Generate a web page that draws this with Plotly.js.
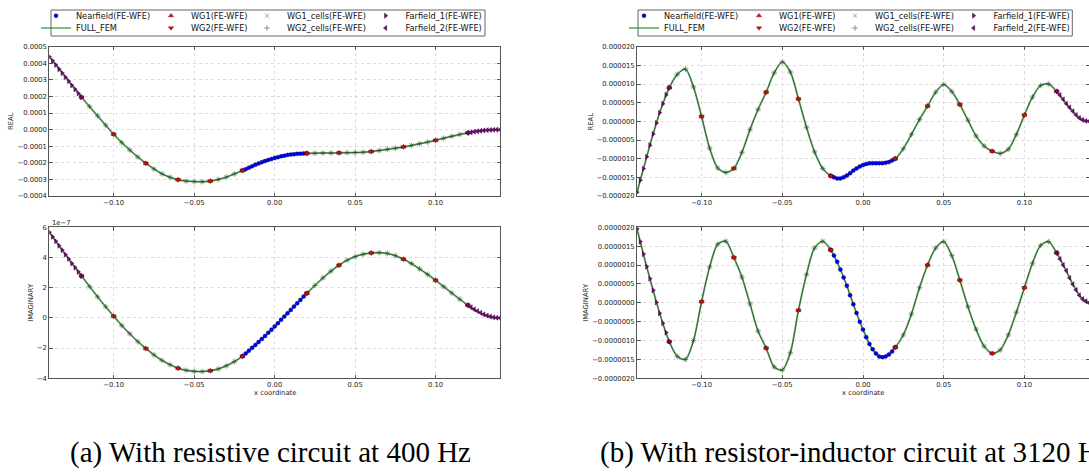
<!DOCTYPE html>
<html><head><meta charset="utf-8">
<script src="https://cdn.plot.ly/plotly-3.0.1.min.js"></script>
<style>html,body{margin:0;padding:0;background:#fff;overflow:hidden}#chart{width:1089px;height:472px}</style>
</head><body><div id="chart"></div>
<script>
// ---------- DATA ----------
const X_GRID = [-0.14,-0.135,-0.13,-0.125,-0.12,-0.115,-0.11,-0.105,-0.10,-0.095,-0.09,-0.085,-0.08,-0.075,-0.07,-0.065,-0.06,-0.055,-0.05,-0.045,-0.04,-0.035,-0.03,-0.025,-0.02,-0.015,-0.01,-0.005,0,0.005,0.01,0.015,0.02,0.025,0.03,0.035,0.04,0.045,0.05,0.055,0.06,0.065,0.07,0.075,0.08,0.085,0.09,0.095,0.10,0.105,0.11,0.115,0.12,0.125,0.13,0.135,0.14];
// (a) REAL, units of 1e-4
const realA_fem = [4.40,3.78,3.16,2.55,1.96,1.39,0.83,0.27,-0.28,-0.78,-1.23,-1.65,-2.03,-2.37,-2.66,-2.87,-3.02,-3.10,-3.13,-3.14,-3.10,-3.00,-2.86,-2.67,-2.46,-2.25,-2.04,-1.86,-1.71,-1.59,-1.50,-1.45,-1.43,-1.42,-1.41,-1.41,-1.40,-1.39,-1.38,-1.36,-1.32,-1.26,-1.19,-1.12,-1.04,-0.95,-0.85,-0.75,-0.64,-0.52,-0.40,-0.29,-0.19,-0.11,-0.05,-0.01,0.00];
// (a) IMAGINARY, units of 1e-7
const imagA_fem = [5.67,4.92,4.19,3.47,2.78,2.08,1.40,0.74,0.11,-0.50,-1.05,-1.57,-2.03,-2.45,-2.81,-3.10,-3.33,-3.47,-3.54,-3.55,-3.50,-3.38,-3.17,-2.89,-2.54,-2.08,-1.60,-1.10,-0.57,-0.02,0.53,1.08,1.63,2.15,2.65,3.10,3.49,3.82,4.06,4.22,4.30,4.32,4.27,4.12,3.89,3.60,3.25,2.88,2.49,2.07,1.65,1.24,0.84,0.50,0.23,0.06,0.00];
// (b) REAL, units of 1e-6
const realB_fem = [-19.0,-11.1,-3.4,3.5,9.0,12.6,14.0,9.2,1.3,-7.2,-12.5,-13.7,-12.6,-8.3,-2.2,3.2,7.8,13.0,15.9,13.2,6.0,-1.6,-8.2,-12.6,-14.6,-15.3,-14.5,-12.9,-11.7,-11.2,-11.2,-11.0,-10.0,-7.3,-3.5,0.5,4.1,7.8,9.9,8.0,4.5,0.3,-3.9,-6.6,-8.0,-8.6,-7.5,-3.5,1.7,6.5,9.6,10.0,8.0,5.3,2.7,0.65,0.0];
// (b) IMAGINARY, units of 1e-6
const imagB_fem = [1.96,1.12,0.33,-0.41,-1.03,-1.42,-1.50,-1.00,0.03,0.95,1.55,1.63,1.20,0.68,-0.03,-0.75,-1.20,-1.70,-1.78,-1.32,-0.20,0.75,1.45,1.63,1.40,0.98,0.45,-0.16,-0.71,-1.17,-1.42,-1.40,-1.18,-0.85,-0.30,0.40,1.00,1.45,1.62,1.25,0.60,-0.10,-0.70,-1.15,-1.34,-1.25,-0.85,-0.25,0.40,1.05,1.52,1.62,1.32,0.92,0.49,0.15,0.00];

const NEAR_X = [-0.02,-0.018,-0.016,-0.014,-0.012,-0.01,-0.008,-0.006,-0.004,-0.002,0,0.002,0.004,0.006,0.008,0.01,0.012,0.014,0.016,0.018,0.02];
const realA_near = [-2.46,-2.38,-2.29,-2.21,-2.12,-2.04,-1.96,-1.89,-1.83,-1.77,-1.71,-1.66,-1.61,-1.57,-1.53,-1.50,-1.48,-1.46,-1.45,-1.44,-1.43];
const imagA_near = [-2.54,-2.36,-2.17,-1.98,-1.79,-1.60,-1.40,-1.20,-0.99,-0.78,-0.57,-0.35,-0.13,0.09,0.31,0.53,0.75,0.97,1.19,1.41,1.63];
const realB_near = [-14.6,-15.0,-15.3,-15.3,-15.0,-14.5,-13.9,-13.2,-12.6,-12.1,-11.7,-11.4,-11.25,-11.2,-11.2,-11.2,-11.2,-11.1,-10.9,-10.5,-10.0];
const imagB_near = [1.40,1.25,1.09,0.88,0.67,0.45,0.20,-0.04,-0.27,-0.50,-0.71,-0.91,-1.09,-1.23,-1.34,-1.42,-1.44,-1.42,-1.37,-1.29,-1.18];

const WG_X = [-0.12,-0.10,-0.08,-0.06,-0.04,-0.02,0.02,0.04,0.06,0.08,0.10,0.12];
const realA_wg = [1.96,-0.28,-2.03,-3.02,-3.10,-2.46,-1.43,-1.40,-1.32,-1.04,-0.64,-0.19];
const imagA_wg = [2.78,0.11,-2.03,-3.33,-3.50,-2.54,1.63,3.49,4.30,3.89,2.49,0.84];
const realB_wg = [9.0,1.3,-12.6,7.8,6.0,-14.6,-10.0,4.1,4.5,-8.0,1.7,8.0];
const imagB_wg = [-1.03,0.03,1.20,-1.20,-0.20,1.40,-1.18,1.00,0.60,-1.34,0.40,1.32];

const FF1_X = [-0.14,-0.138,-0.136,-0.134,-0.132,-0.13,-0.128,-0.126,-0.124,-0.122,-0.12];
const FF2_X = [0.12,0.122,0.124,0.126,0.128,0.13,0.132,0.134,0.136,0.138,0.14];
const realA_ff1 = [4.40,4.15,3.90,3.65,3.41,3.16,2.92,2.67,2.43,2.19,1.96];
const realA_ff2 = [-0.19,-0.16,-0.12,-0.10,-0.07,-0.05,-0.03,-0.02,-0.01,0.00,0.00];
const imagA_ff1 = [5.67,5.37,5.08,4.78,4.49,4.19,3.90,3.61,3.33,3.05,2.78];
const imagA_ff2 = [0.84,0.70,0.57,0.45,0.34,0.23,0.15,0.09,0.04,0.01,0.00];
const realB_ff1 = [-19.0,-15.8,-12.7,-9.5,-6.4,-3.4,-0.45,2.3,4.7,7.1,9.0];
const realB_ff2 = [8.0,7.0,5.9,4.7,3.7,2.7,1.7,0.9,0.4,0.1,0.0];
const imagB_ff1 = [1.96,1.62,1.29,0.96,0.64,0.33,0.01,-0.28,-0.54,-0.79,-1.02];
const imagB_ff2 = [1.32,1.16,1.00,0.85,0.66,0.49,0.34,0.20,0.10,0.04,0.00];

const SERIES_NAMES = ['Nearfield(FE-WFE)','FULL_FEM','WG1(FE-WFE)','WG2(FE-WFE)','WG1_cells(FE-WFE)','WG2_cells(FE-WFE)','Farfield_1(FE-WFE)','Farfield_2(FE-WFE)'];
const X_TICKS = [-0.10,-0.05,0.00,0.05,0.10];
const YA_TICKS = [-0.0004,-0.0003,-0.0002,-0.0001,0,0.0001,0.0002,0.0003,0.0004,0.0005];
const YA2_TICKS = [-4,-2,0,2,4,6];
const YB_TICKS = [-0.00002,-0.000015,-0.00001,-0.000005,0,0.000005,0.00001,0.000015,0.00002];
const YB2_TICKS = [-0.000002,-0.0000015,-0.000001,-0.0000005,0,0.0000005,0.000001,0.0000015,0.000002];
const CAPTIONS = ['(a) With resistive circuit at 400 Hz','(b) With resistor-inductor circuit at 3120 Hz'];

// ---------- LAYOUT HELPERS ----------
const W = 1089, H = 472;
const px = v => v / W;
const py = v => 1 - v / H;

const traces = [];
function addPanel(xa, ya, scale, fem, near, wg, ff1, ff2, legBase, showLeg) {
  const s = a => a.map(v => v * scale);
  const cellIdx = X_GRID.map((x, i) => i).filter(i => Math.abs(X_GRID[i]) >= 0.0199 && Math.abs(X_GRID[i]) <= 0.1201);
  const cx = cellIdx.map(i => X_GRID[i]);
  const cy = cellIdx.map(i => fem[i] * scale);
  const L = k => (legBase + k === 1 ? 'legend' : 'legend' + (legBase + k));
  const common = {xaxis: xa, yaxis: ya, showlegend: showLeg};
  traces.push(Object.assign({type:'scatter', mode:'markers', name:SERIES_NAMES[4], x:cx, y:cy, legend:L(5),
    marker:{symbol:'x-thin-open', size:4, color:'#8c8c8c', line:{width:0.8, color:'#8c8c8c'}}}, common));
  traces.push(Object.assign({type:'scatter', mode:'markers', name:SERIES_NAMES[5], x:cx, y:cy, legend:L(6),
    marker:{symbol:'cross-thin-open', size:4, color:'#777', line:{width:0.8, color:'#777'}}}, common));
  traces.push(Object.assign({type:'scatter', mode:'lines', name:SERIES_NAMES[1], x:X_GRID, y:s(fem), legend:L(2),
    line:{color:'rgba(0,128,0,0.5)', width:2, shape:'spline', smoothing:0.8}}, common));
  traces.push(Object.assign({type:'scatter', mode:'lines', x:X_GRID, y:s(fem), hoverinfo:'skip',
    line:{color:'rgba(15,60,15,0.9)', width:0.8, shape:'spline', smoothing:0.8}}, common, {showlegend:false}));
  traces.push(Object.assign({type:'scatter', mode:'markers', name:SERIES_NAMES[0], x:NEAR_X, y:s(near), legend:L(1),
    marker:{symbol:'circle', size:4, color:'#0000ff', line:{width:0.4, color:'#000033'}}}, common));
  traces.push(Object.assign({type:'scatter', mode:'markers', name:SERIES_NAMES[2], x:WG_X, y:s(wg), legend:L(3),
    marker:{symbol:'triangle-up', size:4.5, color:'#ff0000', line:{width:0.4, color:'#330000'}}}, common));
  traces.push(Object.assign({type:'scatter', mode:'markers', name:SERIES_NAMES[3], x:WG_X, y:s(wg), legend:L(4),
    marker:{symbol:'triangle-down', size:4.5, color:'#ff0000', line:{width:0.4, color:'#330000'}}}, common));
  traces.push(Object.assign({type:'scatter', mode:'markers', name:SERIES_NAMES[6], x:FF1_X, y:s(ff1), legend:L(7),
    marker:{symbol:'triangle-right', size:4.5, color:'#800080', line:{width:0.4, color:'#200020'}}}, common));
  traces.push(Object.assign({type:'scatter', mode:'markers', name:SERIES_NAMES[7], x:FF2_X, y:s(ff2), legend:L(8),
    marker:{symbol:'triangle-left', size:4.5, color:'#800080', line:{width:0.4, color:'#200020'}}}, common));
}
addPanel('x','y',1e-4, realA_fem, realA_near, realA_wg, realA_ff1, realA_ff2, 0, true);
addPanel('x2','y2',1, imagA_fem, imagA_near, imagA_wg, imagA_ff1, imagA_ff2, 0, false);
addPanel('x3','y3',1e-6, realB_fem, realB_near, realB_wg, realB_ff1, realB_ff2, 8, true);
addPanel('x4','y4',1e-6, imagB_fem, imagB_near, imagB_wg, imagB_ff1, imagB_ff2, 8, false);

const tickFont = {family:'DejaVu Sans', size:6.8, color:'#222'};
const axBase = {ticks:'inside', ticklen:3.5, tickwidth:0.8, tickcolor:'#333', showline:true, linecolor:'#555', linewidth:1,
  mirror:'allticks', showgrid:true, gridcolor:'#c4c4c4', griddash:'dot', gridwidth:0.6, zeroline:false, tickfont:tickFont, fixedrange:true};
const xAx = (dom, anchor) => Object.assign({}, axBase, {domain:dom, anchor:anchor, range:[-0.14,0.14], tickvals:X_TICKS, tickformat:'.2f'});
const yAx = (dom, anchor, range, tv, fmt) => Object.assign({}, axBase, {domain:dom, anchor:anchor, range:range, tickvals:tv, tickformat:fmt});

const LX = [px(49.3), px(500)], RX = [px(637), 1];
const TY = [py(196), py(46.7)], BY = [py(378.3), py(227.3)];

const layout = {
  width:W, height:H, margin:{l:0,r:0,t:0,b:0}, paper_bgcolor:'#fff', plot_bgcolor:'#fff',
  xaxis: xAx(LX,'y'), yaxis: yAx(TY,'x',[-0.0004,0.0005],YA_TICKS,'.4f'),
  xaxis2: xAx(LX,'y2'), yaxis2: yAx(BY,'x2',[-4,6],YA2_TICKS,'d'),
  xaxis3: xAx(RX,'y3'), yaxis3: yAx(TY,'x3',[-0.00002,0.00002],YB_TICKS,'.6f'),
  xaxis4: xAx(RX,'y4'), yaxis4: yAx(BY,'x4',[-0.000002,0.000002],YB2_TICKS,'.7f'),
  shapes: [
    {type:'rect', xref:'paper', yref:'paper', x0:px(51), x1:px(485), y0:py(36), y1:py(10), line:{color:'#555', width:0.9}},
    {type:'rect', xref:'paper', yref:'paper', x0:px(638), x1:px(1072.3), y0:py(36), y1:py(10), line:{color:'#555', width:0.9}}
  ],
  annotations: [],
  hovermode:false
};
// 16 one-item legends laid out as two 4x2 grids
const COL_TEXT = [76, 191, 287, 405.6];
const ROW_Y = [15.7, 28];
for (let p = 0; p < 2; p++) {
  for (let k = 0; k < 8; k++) {
    const row = k % 2, col = Math.floor(k / 2);
    const idx = p * 8 + k + 1;
    const key = idx === 1 ? 'legend' : 'legend' + idx;
    layout[key] = {x: px(COL_TEXT[col] + p * 588 - 40), xanchor:'left', y: py(ROW_Y[row]), yanchor:'middle',
      bgcolor:'rgba(0,0,0,0)', borderwidth:0, font:{family:'DejaVu Sans', size:8.2, color:'#111'}, itemclick:false, itemdoubleclick:false};
  }
}
const ann = (x, y, text, opt) => Object.assign({xref:'paper', yref:'paper', x:x, y:y, text:text, showarrow:false,
  xanchor:'center', yanchor:'middle', font:tickFont}, opt || {});
layout.annotations.push(ann(px(11.5), py(121.5), 'REAL', {textangle:-90}));
layout.annotations.push(ann(px(31), py(302.8), 'IMAGINARY', {textangle:-90}));
layout.annotations.push(ann(px(591), py(121.5), 'REAL', {textangle:-90}));
layout.annotations.push(ann(px(586), py(302.8), 'IMAGINARY', {textangle:-90}));
layout.annotations.push(ann(px(274.6), py(393.3), 'x coordinate'));
layout.annotations.push(ann(px(862.5), py(393.3), 'x coordinate'));
layout.annotations.push(ann(px(50), py(223), '1e\u22127', {xanchor:'left'}));
const capFont = {family:'Liberation Serif', size:29, color:'#000'};
layout.annotations.push(ann(px(68), py(452), CAPTIONS[0], {xanchor:'left', font:capFont}));
layout.annotations.push(ann(px(598), py(452), CAPTIONS[1], {xanchor:'left', font:capFont}));

Plotly.newPlot('chart', traces, layout, {displayModeBar:false, staticPlot:true});
</script></body></html>
